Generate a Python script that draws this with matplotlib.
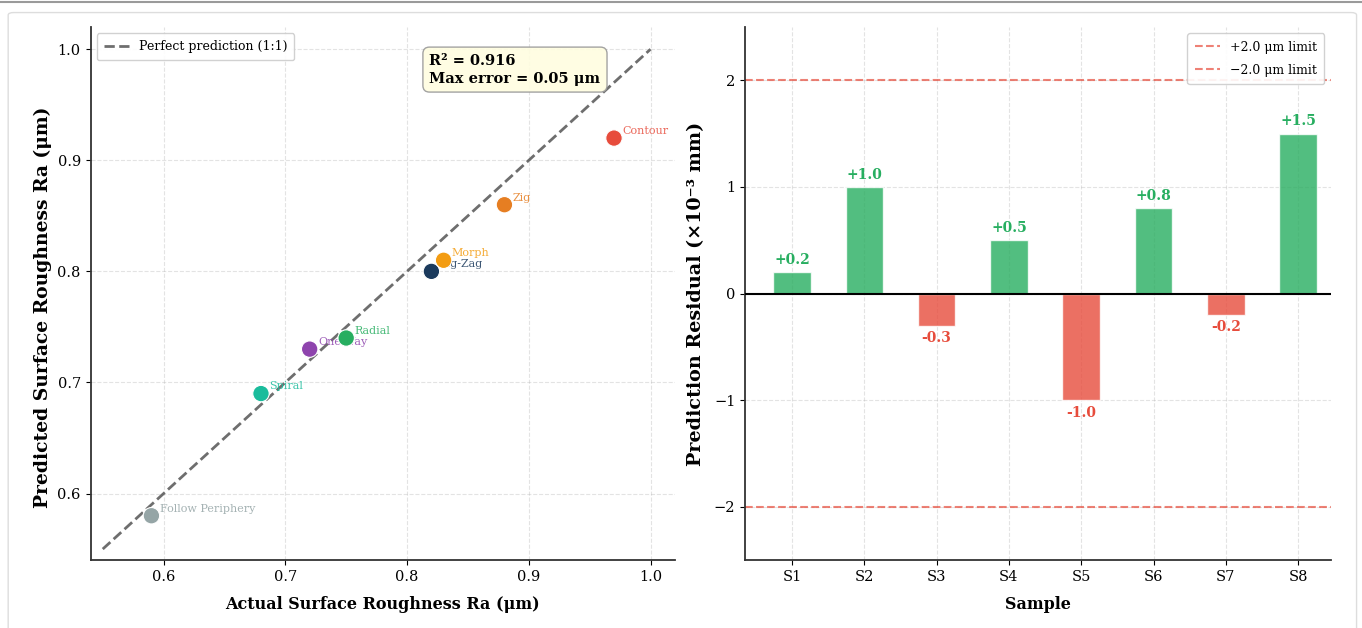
import numpy as np
import matplotlib.pyplot as plt
from matplotlib.patches import FancyBboxPatch
from matplotlib.lines import Line2D

plt.rcParams['font.family'] = ['DejaVu Serif']

# left panel: actual vs predicted roughness
strategies = ['Follow Periphery', 'Spiral', 'One-Way', 'Radial',
              'Zig-Zag', 'Morph', 'Zig', 'Contour']
actual = [0.59, 0.68, 0.72, 0.75, 0.82, 0.83, 0.88, 0.97]
predicted = [0.58, 0.69, 0.73, 0.74, 0.80, 0.81, 0.86, 0.92]
colors = ['#95a5a6', '#1abc9c', '#8e44ad', '#27ae60',
          '#1b3a5c', '#f39c12', '#e67e22', '#e74c3c']
r2 = 0.916
max_err = 0.05

# right panel: residuals
samples = ['S1', 'S2', 'S3', 'S4', 'S5', 'S6', 'S7', 'S8']
residuals = [0.2, 1.0, -0.3, 0.5, -1.0, 0.8, -0.2, 1.5]
limit = 2.0

fig = plt.figure(figsize=(13.62, 6.28), dpi=100)

# page frame from the screenshot
fig.add_artist(Line2D([0, 1], [0.997, 0.997], color='#9a9a9a', lw=1.5,
                      transform=fig.transFigure))
fig.add_artist(FancyBboxPatch((0.006, -0.02), 0.99, 1.0, transform=fig.transFigure,
                              boxstyle='round,pad=0,rounding_size=0.004',
                              fc='none', ec='#dddddd', lw=1))

ax1 = fig.add_axes([0.0665, 0.108, 0.429, 0.849])
ax2 = fig.add_axes([0.547, 0.108, 0.430, 0.849])

# ---- left
ax1.plot([0.55, 1.0], [0.55, 1.0], '--', color='#555555', lw=2, alpha=0.85,
         label='Perfect prediction (1:1)', zorder=2)
ax1.scatter(actual, predicted, c=colors, s=140, edgecolors='white',
            linewidths=0.8, zorder=5)
for name, x, y, c in zip(strategies, actual, predicted, colors):
    ax1.annotate(name, (x, y), xytext=(6, 3), textcoords='offset points',
                 fontsize=8, color=c, alpha=0.85, zorder=3)
ax1.text(0.58, 0.95, f'R² = {r2:.3f}\nMax error = {max_err:.2f} μm',
         transform=ax1.transAxes, fontsize=10.5, fontweight='bold', va='top',
         linespacing=1.35,
         bbox=dict(boxstyle='round,pad=0.45', fc='#fffde0', ec='#999999', alpha=0.9))
ax1.set_xlim(0.54, 1.02)
ax1.set_ylim(0.54, 1.02)
ax1.set_xticks([0.6, 0.7, 0.8, 0.9, 1.0])
ax1.set_yticks([0.6, 0.7, 0.8, 0.9, 1.0])
ax1.set_xlabel('Actual Surface Roughness Ra (μm)', fontsize=11.5,
               fontweight='bold', labelpad=9)
ax1.set_ylabel('Predicted Surface Roughness Ra (μm)', fontsize=13.5,
               fontweight='bold')
ax1.yaxis.set_label_coords(-0.066, 0.475)
ax1.legend(loc='upper left', fontsize=9, framealpha=0.9, borderpad=0.55)
ax1.grid(True, ls='--', alpha=0.35)

# ---- right
x = np.arange(len(samples))
bar_colors = ['#27ae60' if r >= 0 else '#e74c3c' for r in residuals]
ax2.bar(x, residuals, width=0.52, color=bar_colors, alpha=0.8,
        edgecolor='white', linewidth=1, zorder=3)
for xi, r, c in zip(x, residuals, bar_colors):
    if r >= 0:
        ax2.text(xi, r + 0.05, f'+{r:.1f}', ha='center', va='bottom',
                 fontsize=10, fontweight='bold', color=c)
    else:
        ax2.text(xi, r - 0.05, f'{r:.1f}', ha='center', va='top',
                 fontsize=10, fontweight='bold', color=c)
ax2.axhline(0, color='black', lw=1.5, zorder=4)
ax2.axhline(limit, color='#e74c3c', ls='--', lw=1.5, alpha=0.7,
            label=f'+{limit:.1f} μm limit')
ax2.axhline(-limit, color='#e74c3c', ls='--', lw=1.5, alpha=0.7,
            label=f'\u2212{limit:.1f} μm limit')
ax2.set_xticks(x)
ax2.set_xticklabels(samples)
ax2.set_xlim(-0.65, 7.45)
ax2.set_ylim(-2.5, 2.5)
ax2.set_yticks([-2, -1, 0, 1, 2])
ax2.set_xlabel('Sample', fontsize=11.5, fontweight='bold', labelpad=9)
ax2.set_ylabel('Prediction Residual (×10⁻³ mm)', fontsize=13.8,
               fontweight='bold', labelpad=6)
ax2.legend(loc='upper right', fontsize=9, framealpha=0.9, labelspacing=0.8,
           borderpad=0.6)
ax2.grid(True, ls='--', alpha=0.35)

for ax in (ax1, ax2):
    ax.spines['top'].set_visible(False)
    ax.spines['right'].set_visible(False)
    ax.spines['left'].set_color('#333333')
    ax.spines['bottom'].set_color('#333333')
    ax.spines['left'].set_linewidth(1.3)
    ax.spines['bottom'].set_linewidth(1.3)
    ax.tick_params(labelsize=10.5)

fig.savefig('out.png', dpi=100)
